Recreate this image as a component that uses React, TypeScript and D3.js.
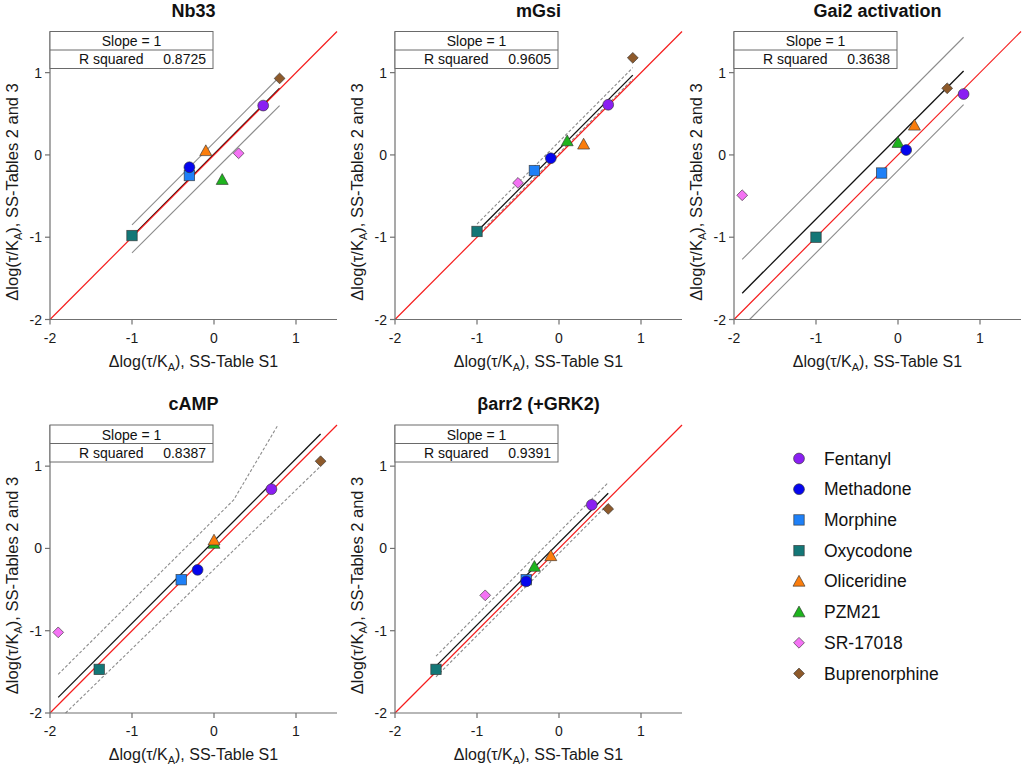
import React from "react";
import * as d3 from "d3";

// ---------- categories ----------
const drugs = ["Fentanyl", "Methadone", "Morphine", "Oxycodone", "Oliceridine", "PZM21", "SR-17018", "Buprenorphine"];
const drugShapes = ["circle", "circle", "square", "square", "triangle", "triangle", "diamond", "diamond"];
const drugColors = ["#8a1ff2", "#0505ee", "#1e80f7", "#137777", "#fb7d0c", "#1eb41e", "#f472f4", "#8e5a2b"];

const panelTitles = ["Nb33", "mGsi", "Gai2 activation", "cAMP", "\u03B2arr2 (+GRK2)"];
const rSquaredValues = ["0.8725", "0.9605", "0.3638", "0.8387", "0.9391"];
const slopeLabel = "Slope = 1";
const axisTicks = [-2, -1, 0, 1];
const axisDomain = [-2, 1.5];

// ---------- series values (x: SS-Table S1, y: SS-Tables 2 and 3), in drug order ----------
const nb33X = [0.6, -0.3, -0.3, -1.0, -0.1, 0.1, 0.3, 0.8];
const nb33Y = [0.6, -0.15, -0.25, -0.98, 0.05, -0.3, 0.02, 0.93];
const mgsiX = [0.6, -0.1, -0.3, -1.0, 0.3, 0.1, -0.5, 0.9];
const mgsiY = [0.61, -0.04, -0.19, -0.93, 0.13, 0.17, -0.34, 1.18];
const gai2X = [0.8, 0.1, -0.2, -1.0, 0.2, 0.0, -1.9, 0.6];
const gai2Y = [0.74, 0.06, -0.22, -1.0, 0.36, 0.15, -0.49, 0.81];
const campX = [0.7, -0.2, -0.4, -1.4, 0.0, 0.0, -1.9, 1.3];
const campY = [0.72, -0.26, -0.38, -1.47, 0.1, 0.06, -1.02, 1.06];
const barrX = [0.4, -0.4, -0.4, -1.5, -0.1, -0.3, -0.9, 0.6];
const barrY = [0.53, -0.4, -0.38, -1.47, -0.09, -0.22, -0.57, 0.48];

// ---------- fit lines and bands ----------
const nb33FitX = [-1.0, 0.8], nb33FitY = [-0.99, 0.81];
const nb33UpX = [-1.0, 0.8], nb33UpY = [-0.85, 0.95];
const nb33LoX = [-1.0, 0.8], nb33LoY = [-1.19, 0.6];

const mgsiFitX = [-1.0, 0.9], mgsiFitY = [-0.93, 0.97];
const mgsiUpX = [-1.0, 0.9], mgsiUpY = [-0.84, 1.06];
const mgsiLoX = [-1.0, 0.9], mgsiLoY = [-0.98, 0.92];

const gai2FitX = [-1.9, 0.8], gai2FitY = [-1.68, 1.02];
const gai2UpX = [-1.9, 0.8], gai2UpY = [-1.27, 1.43];
const gai2LoX = [-1.81, 0.8], gai2LoY = [-2.0, 0.61];

const campFitX = [-1.9, 1.3], campFitY = [-1.81, 1.39];
const campUpX = [-1.9, 0.24, 0.78], campUpY = [-1.53, 0.59, 1.5];
const campLoX = [-1.81, 1.29], campLoY = [-2.0, 0.99];

const barrFitX = [-1.5, 0.6], barrFitY = [-1.43, 0.67];
const barrUpX = [-1.5, 0.6], barrUpY = [-1.31, 0.8];
const barrLoX = [-1.5, 0.6], barrLoY = [-1.56, 0.54];

const panelData = [
  { xs: nb33X, ys: nb33Y, fx: nb33FitX, fy: nb33FitY, ux: nb33UpX, uy: nb33UpY, lx: nb33LoX, ly: nb33LoY, dashed: false },
  { xs: mgsiX, ys: mgsiY, fx: mgsiFitX, fy: mgsiFitY, ux: mgsiUpX, uy: mgsiUpY, lx: mgsiLoX, ly: mgsiLoY, dashed: true },
  { xs: gai2X, ys: gai2Y, fx: gai2FitX, fy: gai2FitY, ux: gai2UpX, uy: gai2UpY, lx: gai2LoX, ly: gai2LoY, dashed: false },
  { xs: campX, ys: campY, fx: campFitX, fy: campFitY, ux: campUpX, uy: campUpY, lx: campLoX, ly: campLoY, dashed: true },
  { xs: barrX, ys: barrY, fx: barrFitX, fy: barrFitY, ux: barrUpX, uy: barrUpY, lx: barrLoX, ly: barrLoY, dashed: true },
];

// ---------- layout ----------
const W = 1026, H = 768;
const panelLefts = [50, 395, 734, 50, 395];
const panelTops = [31.5, 31.5, 31.5, 425, 425];
const plotW = 287, plotH = 288;
const FONT = "'Liberation Sans', Arial, Helvetica, sans-serif";

function Marker({ shape, color, cx, cy }: { shape: string; color: string; cx: number; cy: number }) {
  const stroke = "#333";
  const sw = 0.8;
  if (shape === "circle") return <circle cx={cx} cy={cy} r={5.4} fill={color} stroke={stroke} strokeWidth={sw} strokeOpacity={0.8} />;
  if (shape === "square") return <rect x={cx - 5.2} y={cy - 5.2} width={10.4} height={10.4} fill={color} stroke={stroke} strokeWidth={sw} strokeOpacity={0.8} />;
  if (shape === "triangle") {
    const p = `${cx},${cy - 6} ${cx + 6},${cy + 4.8} ${cx - 6},${cy + 4.8}`;
    return <polygon points={p} fill={color} stroke={stroke} strokeWidth={sw} strokeOpacity={0.8} />;
  }
  const d = 5.4;
  const p = `${cx},${cy - d} ${cx + d},${cy} ${cx},${cy + d} ${cx - d},${cy}`;
  return <polygon points={p} fill={color} stroke={stroke} strokeWidth={sw} strokeOpacity={0.8} />;
}

function AxisTitle({ text2 }: { text2: string }) {
  return (
    <>
      {"\u0394log(\u03C4/K"}
      <tspan fontSize="11" dy="4">A</tspan>
      <tspan dy="-4">{")" + text2}</tspan>
    </>
  );
}

function Panel({ i }: { i: number }) {
  const left = panelLefts[i], top = panelTops[i];
  const x = d3.scaleLinear().domain(axisDomain).range([left, left + plotW]);
  const y = d3.scaleLinear().domain(axisDomain).range([top + plotH, top]);
  const pd = panelData[i];
  const line = d3.line<[number, number]>().x((d) => x(d[0])).y((d) => y(d[1]));
  const pts = (xs: number[], ys: number[]) => xs.map((v, k) => [v, ys[k]] as [number, number]);
  const bottom = top + plotH;
  const axisColor = "#707070";
  const bandColor = "#8c8c8c";
  const order = d3.range(drugs.length).reverse();
  return (
    <g>
      <text x={(left + left + plotW) / 2} y={top - 15} textAnchor="middle" fontFamily={FONT} fontWeight="bold" fontSize="18" fill="#111">
        {panelTitles[i]}
      </text>
      {/* bands */}
      <path d={line(pts(pd.ux, pd.uy)) || ""} fill="none" stroke={bandColor} strokeWidth={1.1} strokeDasharray={pd.dashed ? "3,2" : undefined} />
      <path d={line(pts(pd.lx, pd.ly)) || ""} fill="none" stroke={bandColor} strokeWidth={1.1} strokeDasharray={pd.dashed ? "3,2" : undefined} />
      {/* fit */}
      <path d={line(pts(pd.fx, pd.fy)) || ""} fill="none" stroke="#111" strokeWidth={1.3} />
      {/* identity line */}
      <path d={line([[axisDomain[0], axisDomain[0]], [axisDomain[1], axisDomain[1]]]) || ""} fill="none" stroke="#f51c1c" strokeWidth={1.2} />
      {/* axes */}
      <line x1={left} x2={left} y1={top} y2={bottom} stroke={axisColor} strokeWidth={1.2} />
      <line x1={left} x2={left + plotW} y1={bottom} y2={bottom} stroke={axisColor} strokeWidth={1.2} />
      {axisTicks.map((t) => (
        <g key={"x" + t}>
          <line x1={x(t)} x2={x(t)} y1={bottom} y2={bottom + 5} stroke={axisColor} strokeWidth={1.2} />
          <text x={x(t)} y={bottom + 23} textAnchor="middle" fontFamily={FONT} fontSize="14" fill="#1a1a1a">{t}</text>
        </g>
      ))}
      {axisTicks.map((t) => (
        <g key={"y" + t}>
          <line x1={left - 5} x2={left} y1={y(t)} y2={y(t)} stroke={axisColor} strokeWidth={1.2} />
          <text x={left - 8} y={y(t) + 5} textAnchor="end" fontFamily={FONT} fontSize="14" fill="#1a1a1a">{t}</text>
        </g>
      ))}
      <text x={left + plotW / 2} y={bottom + 47} textAnchor="middle" fontFamily={FONT} fontSize="16" fill="#1a1a1a">
        <AxisTitle text2=", SS-Table S1" />
      </text>
      <text transform={`translate(${left - 32},${y(-0.45)}) rotate(-90)`} textAnchor="middle" fontFamily={FONT} fontSize="16.5" fill="#1a1a1a">
        <AxisTitle text2=", SS-Tables 2 and 3" />
      </text>
      {/* stats box */}
      <rect x={left} y={top} width={163} height={37} fill="#fff" stroke="#6a6a6a" strokeWidth={1} />
      <line x1={left} x2={left + 163} y1={top + 18.5} y2={top + 18.5} stroke="#6a6a6a" strokeWidth={1} />
      <text x={left + 81.5} y={top + 14.5} textAnchor="middle" fontFamily={FONT} fontSize="14" fill="#111">{slopeLabel}</text>
      <text x={left + 29} y={top + 32.5} fontFamily={FONT} fontSize="14" fill="#111">R squared</text>
      <text x={left + 156} y={top + 32.5} textAnchor="end" fontFamily={FONT} fontSize="14" fill="#111">{rSquaredValues[i]}</text>
      {/* points */}
      {order.map((k) => (
        <Marker key={k} shape={drugShapes[k]} color={drugColors[k]} cx={x(pd.xs[k])} cy={y(pd.ys[k])} />
      ))}
    </g>
  );
}

function Legend() {
  const rows = d3.scaleLinear().domain([0, drugs.length - 1]).range([458.5, 673.5]);
  return (
    <g>
      {drugs.map((name, k) => (
        <g key={name}>
          <Marker shape={drugShapes[k]} color={drugColors[k]} cx={799} cy={rows(k)} />
          <text x={824} y={rows(k) + 6} fontFamily={FONT} fontSize="17.5" fill="#111">{name}</text>
        </g>
      ))}
    </g>
  );
}

export default function App() {
  return (
    <svg width={W} height={H} viewBox={`0 0 ${W} ${H}`} style={{ position: "absolute", left: 0, top: 0, display: "block", background: "#fff" }}>
      <rect x={0} y={0} width={W} height={H} fill="#fff" />
      {panelTitles.map((_, i) => (
        <Panel key={i} i={i} />
      ))}
      <Legend />
    </svg>
  );
}
